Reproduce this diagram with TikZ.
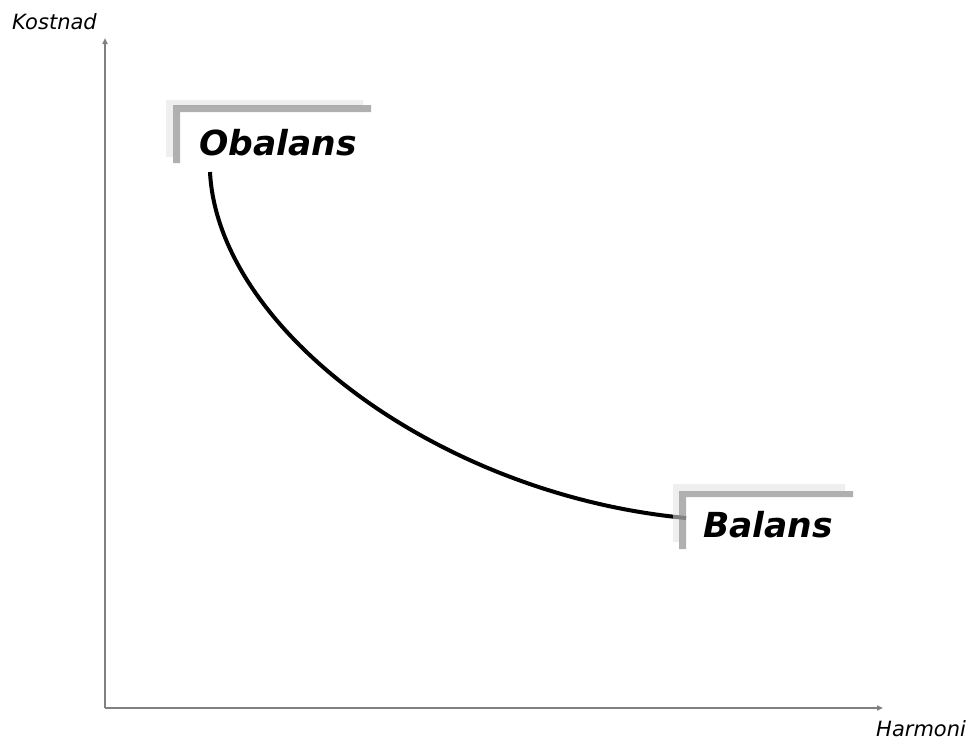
\documentclass[tikz,border=0pt]{standalone}
\usepackage{fontspec}
\setmainfont{DejaVu Sans}[
  ItalicFont={DejaVu Sans Oblique},
  BoldFont={DejaVu Sans Bold},
  BoldItalicFont={DejaVu Sans Bold Oblique}]
\usetikzlibrary{arrows.meta}
\definecolor{axisgray}{HTML}{808080}
\tikzset{
  axisline/.style={draw=axisgray, line width=1.7pt,
    -{Triangle[length=6pt,width=5pt]}},
  axislabel/.style={inner sep=0pt, anchor=base west,
    font=\fontsize{21}{25}\selectfont\itshape},
  statelabel/.style={inner sep=0pt, anchor=base west,
    font=\fontsize{34.5}{40}\selectfont\bfseries\itshape},
  lightbar/.style={fill=black!11, fill opacity=0.56},
  darkbar/.style={fill=black!38, fill opacity=0.81},
  costcurve/.style={draw=black, line width=4pt}
}
\begin{document}
\begin{tikzpicture}[x=1pt, y=-1pt]
  \useasboundingbox (0,0) rectangle (972,742);

  % axes
  \coordinate (origin) at (105,708);
  \coordinate (ytip) at (105,38);
  \coordinate (xtip) at (883,708);
  \draw[axisline] (origin) -- (ytip);
  \draw[axisline] (origin) -- (xtip);
  \node[axislabel] (ylab) at (12,29) {Kostnad};
  \node[axislabel] (xlab) at (876,736) {Harmoni};

  % trade-off curve
  \coordinate (obEnd) at (210,172);
  \coordinate (baEnd) at (686,518);
  \draw[costcurve] (obEnd) .. controls (218,330) and (440,495) .. (baEnd);

  % bracket behind "Obalans"
  \fill[lightbar] (166,100) -- (363,100) -- (363,106) -- (173,106)
                  -- (173,157) -- (166,157) -- cycle;
  \fill[darkbar]  (173,105) -- (371,105) -- (371,112) -- (180,112)
                  -- (180,163) -- (173,163) -- cycle;
  \node[statelabel] (obalans) at (199,155) {Obalans};

  % bracket behind "Balans"
  \fill[lightbar] (673,484) -- (845,484) -- (845,491) -- (679,491)
                  -- (679,542) -- (673,542) -- cycle;
  \fill[darkbar]  (679,491) -- (853,491) -- (853,497) -- (686,497)
                  -- (686,549) -- (679,549) -- cycle;
  \node[statelabel] (balans) at (703,537) {Balans};
\end{tikzpicture}
\end{document}
